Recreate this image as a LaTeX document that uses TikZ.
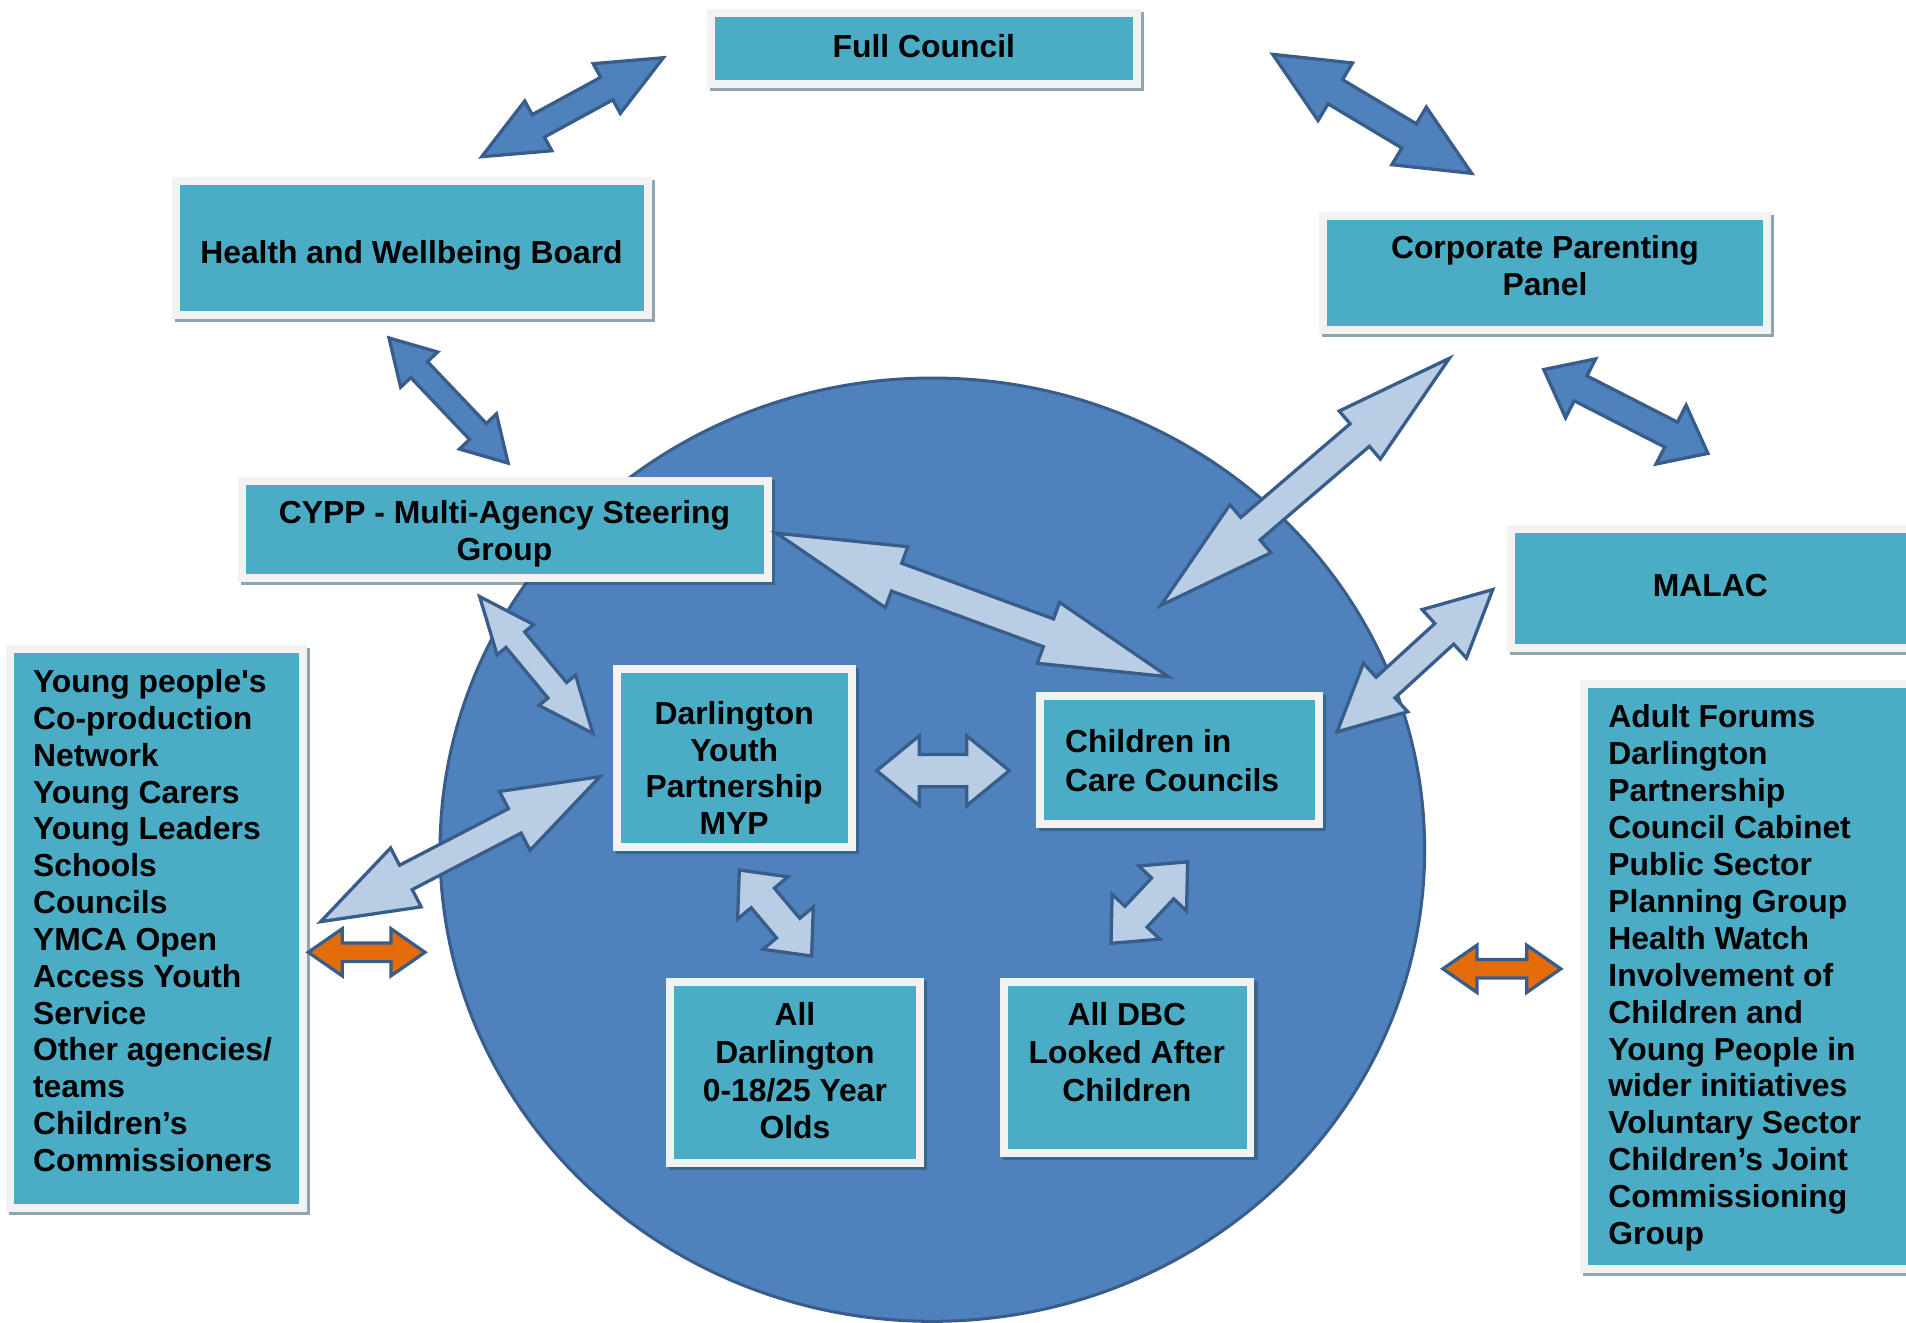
\documentclass[tikz,border=0pt]{standalone}
\usepackage{fontspec}
\setmainfont{Liberation Sans}[Ligatures=TeXOff]
\usetikzlibrary{calc}
\definecolor{teal1}{HTML}{4BACC6}
\definecolor{bord}{HTML}{F2F2F2}
\definecolor{shad}{HTML}{1F4E66}
\definecolor{circ}{HTML}{4F81BD}
\definecolor{circline}{HTML}{385D8A}
\definecolor{lightarr}{HTML}{B9CDE5}
\definecolor{orangearr}{HTML}{E46C0A}
\tikzset{
  boxn/.style={rectangle, draw=bord, fill=teal1, line width=6.5pt, inner sep=0pt},
  shadowfill/.style={fill=shad, fill opacity=0.5},
  bigcirc/.style={fill=circ, draw=circline, line width=2.5pt},
  arrbase/.style={draw=circline, line width=2.7pt, line join=miter},
  darkarr/.style={arrbase, fill=circ},
  lightar/.style={arrbase, fill=lightarr},
  orangear/.style={arrbase, fill=orangearr},
  txt/.style={font=\bfseries\fontsize{26.2}{30.3}\selectfont, inner sep=0pt, text=black},
}
\newcommand\tbox[5]{%
  \fill[shadowfill] ({#2+2.5},{#3+2.5}) rectangle ({#4+2.5},{#5+2.5});
  \node[boxn, minimum width={#4-#2-6.5}, minimum height={#5-#3-6.5}] (#1) at ({(#2+#4)/2},{(#3+#5)/2}) {};
}
% style, tip A, tip B, shaft half width, head half width, head length
\newcommand\barrow[6]{%
  \draw[#1] (#2) -- ($(#2)!#6!(#3)!#5!90:(#3)$) -- ($(#2)!#6!(#3)!#4!90:(#3)$)
   -- ($(#3)!#6!(#2)!#4!-90:(#2)$) -- ($(#3)!#6!(#2)!#5!-90:(#2)$) -- (#3)
   -- ($(#3)!#6!(#2)!#5!90:(#2)$) -- ($(#3)!#6!(#2)!#4!90:(#2)$)
   -- ($(#2)!#6!(#3)!#4!-90:(#3)$) -- ($(#2)!#6!(#3)!#5!-90:(#3)$) -- cycle;
}
\begin{document}
\begin{tikzpicture}[x=1pt,y=-1pt]
\useasboundingbox (0,0) rectangle (1568,1088);
\clip (0,0) rectangle (1568,1088);
\fill[white] (0,0) rectangle (1568,1088);

% big circle
\draw[bigcirc] (767,699) ellipse [x radius=405, y radius=388];

% boxes
\tbox{fc}{581.6}{7.4}{938.6}{72.4}
\tbox{hwb}{141.5}{145.6}{536.4}{262.4}
\tbox{cpp}{1085}{174.4}{1457}{274.8}
\tbox{cypp}{195.6}{392.1}{635.1}{478.5}
\tbox{malac}{1239.5}{432}{1600}{536}
\tbox{left}{4.9}{530.8}{252.8}{996.8}
\tbox{right}{1299.8}{559.2}{1600}{1047}
\tbox{dyp}{504}{547}{704.2}{699.8}
\tbox{cicc}{852.3}{569}{1088}{681}
\tbox{alld}{547.9}{804.6}{760.1}{960}
\tbox{dbc}{822.6}{804.6}{1032}{952}

% arrow tips
\coordinate (a1s) at (396.3,128.9);  \coordinate (a1e) at (545.7,47.5);
\coordinate (a2s) at (1047,44.7);    \coordinate (a2e) at (1210.7,142.6);
\coordinate (a3s) at (320,278);      \coordinate (a3e) at (418,381);
\coordinate (a4s) at (1270,304);     \coordinate (a4e) at (1405,373);
\coordinate (a5s) at (1192.3,294.8); \coordinate (a5e) at (955,498);
\coordinate (a6s) at (639,438.7);    \coordinate (a6e) at (961.1,556.7);
\coordinate (a7s) at (394.6,490.8);  \coordinate (a7e) at (487.8,603.3);
\coordinate (a8s) at (1228,485);     \coordinate (a8e) at (1100,602);
\coordinate (a9s) at (263.8,758.2);  \coordinate (a9e) at (493.6,638.9);
\coordinate (a10s) at (721.2,634);   \coordinate (a10e) at (830.3,634);
\coordinate (a11s) at (608.2,715.7); \coordinate (a11e) at (667.7,786.5);
\coordinate (a12s) at (914,776);     \coordinate (a12e) at (977,709);
\coordinate (a13s) at (253.6,783.4); \coordinate (a13e) at (349.6,783.4);
\coordinate (a14s) at (1187,797);    \coordinate (a14e) at (1284,797);

\barrow{darkarr}{a1s}{a1e}{10.5pt}{23.3pt}{53pt}
\barrow{darkarr}{a2s}{a2e}{11.6pt}{27.6pt}{60pt}
\barrow{darkarr}{a3s}{a3e}{9.5pt}{21pt}{36pt}
\barrow{darkarr}{a4s}{a4e}{11.5pt}{27.2pt}{34pt}
\barrow{lightar}{a5s}{a5e}{12.2pt}{26pt}{97pt}
\barrow{lightar}{a6s}{a6e}{12.2pt}{26.7pt}{105pt}
\barrow{lightar}{a7s}{a7e}{10pt}{19.5pt}{46pt}
\barrow{lightar}{a8s}{a8e}{11.5pt}{27pt}{54pt}
\barrow{lightar}{a9s}{a9e}{11.3pt}{27.3pt}{79pt}
\barrow{lightar}{a10s}{a10e}{13.3pt}{28.7pt}{35pt}
\barrow{lightar}{a11s}{a11e}{12.5pt}{27pt}{30pt}
\barrow{lightar}{a12s}{a12e}{12.5pt}{27pt}{30pt}
\barrow{orangear}{a13s}{a13e}{7.6pt}{19.4pt}{28pt}
\barrow{orangear}{a14s}{a14e}{7.6pt}{19.4pt}{28pt}

% texts
\node[txt, anchor=base] (t-fc) at (760,47.2) {Full Council};
\node[txt, anchor=base] (t-hwb) at (338.5,216.6) {Health and Wellbeing Board};
\node[txt, anchor=north, align=center] (t-cpp) at (1271,193.6) {Corporate Parenting\\Panel};
\node[txt, anchor=north, align=center] (t-cypp) at (415,411.6) {CYPP - Multi-Agency Steering\\Group};
\node[txt, anchor=base] (t-malac) at (1407,490.4) {MALAC};
\node[txt, anchor=north, align=center] (t-dyp) at (604,576.6) {Darlington\\Youth\\Partnership\\MYP};
\node[txt, anchor=north west, align=left, font=\bfseries\fontsize{26.2}{32}\selectfont] (t-cicc) at (876,599.6) {Children in\\Care Councils};
\node[txt, anchor=north, align=center, font=\bfseries\fontsize{26.2}{31}\selectfont] (t-alld) at (654,824.6) {All\\Darlington\\0-18/25 Year\\Olds};
\node[txt, anchor=north, align=center, font=\bfseries\fontsize{26.2}{31}\selectfont] (t-dbc) at (927,824.6) {All DBC\\Looked After\\Children};
\node[txt, anchor=north west, align=left] (t-left) at (27,550.6) {Young people's\\Co-production\\Network\\Young Carers\\Young Leaders\\Schools\\Councils\\YMCA Open\\Access Youth\\Service\\Other agencies/\\teams\\Children’s\\Commissioners};
\node[txt, anchor=north west, align=left, font=\bfseries\fontsize{26.2}{30.36}\selectfont] (t-right) at (1323,579.6) {Adult Forums\\Darlington\\Partnership\\Council Cabinet\\Public Sector\\Planning Group\\Health Watch\\Involvement of\\Children and\\Young People in\\wider initiatives\\Voluntary Sector\\Children’s Joint\\Commissioning\\Group};
\end{tikzpicture}
\end{document}
